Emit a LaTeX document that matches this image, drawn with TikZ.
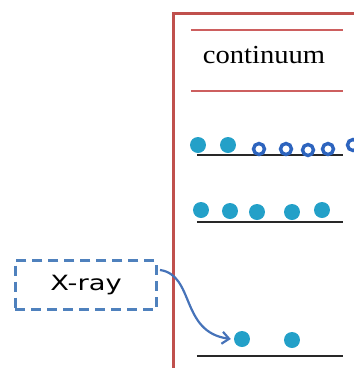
\documentclass[tikz,border=0pt]{standalone}
\usepackage{fontspec}
\setmainfont{Liberation Serif}
\newfontfamily\xfont{DejaVu Sans}
\usetikzlibrary{arrows.meta}
\definecolor{framered}{RGB}{192,80,77}
\definecolor{linered}{RGB}{205,95,95}
\definecolor{dotblue}{RGB}{35,160,200}
\definecolor{ringblue}{RGB}{45,100,190}
\definecolor{boxblue}{RGB}{79,129,189}
\definecolor{arrowblue}{RGB}{70,115,185}
\definecolor{level}{RGB}{40,40,40}
\tikzset{
  dot/.style={circle,fill=dotblue,draw=none,minimum size=16pt,inner sep=0pt},
  hole/.style={circle,draw=ringblue,line width=3.4pt,fill=white,minimum size=11pt,inner sep=0pt},
  levelline/.style={draw=level,line width=2.2pt},
  thinred/.style={draw=linered,line width=1.5pt},
  xraybox/.style={draw=boxblue,line width=3pt,dash pattern=on 10pt off 6pt,minimum width=141pt,minimum height=49pt,inner sep=0pt},
  xarrow/.style={draw=arrowblue,line width=2.2pt,-{Straight Barb[length=7pt,width=12pt]}}
}
\begin{document}
\begin{tikzpicture}[x=1pt,y=-1pt]
\useasboundingbox (0,0) rectangle (354,368);
\clip (0,0) rectangle (354,368);
% frame
\draw[framered,line width=3pt] (174,375) -- (174,13) -- (360,13);
% continuum band
\draw[thinred] (191,30) -- (343,30);
\draw[thinred] (191,91) -- (343,91);
\node (cont) at (264,55) {\fontsize{26}{30}\selectfont\scalebox{1.1}[1]{continuum}};
% row 1
\draw[levelline] (197,155) -- (343,155);
\node[dot] (a1) at (198,145) {};
\node[dot] (a2) at (228,145) {};
\node[hole] (h1) at (259,149) {};
\node[hole] (h2) at (286,149) {};
\node[hole] (h3) at (308,150) {};
\node[hole] (h4) at (328,149) {};
\node[hole] (h5) at (353,145) {};
% row 2
\draw[levelline] (197,222) -- (343,222);
\node[dot] (b1) at (201,210) {};
\node[dot] (b2) at (230,211) {};
\node[dot] (b3) at (257,212) {};
\node[dot] (b4) at (292,212) {};
\node[dot] (b5) at (322,210) {};
% row 3
\draw[levelline] (197,356) -- (343,356);
\node[dot] (c1) at (242,339) {};
\node[dot] (c2) at (292,340) {};
% X-ray box
\node[xraybox] (xray) at (86,285) {\xfont\fontsize{21}{24}\selectfont\scalebox{1.3}[1]{X-ray}};
\coordinate (xs) at (160,270);
\draw[xarrow] (xs) .. controls (195,275) and (180,332) .. ([xshift=-3pt]c1.west);
\end{tikzpicture}
\end{document}
